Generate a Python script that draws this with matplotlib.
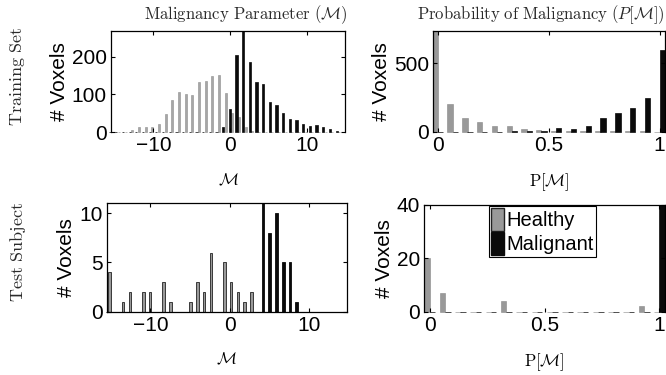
import matplotlib
matplotlib.use("Agg")
import matplotlib.pyplot as plt
import numpy as np
from matplotlib.patches import Patch

plt.rcParams['font.family'] = ['Liberation Sans', 'DejaVu Sans']
plt.rcParams['mathtext.fontset'] = 'cm'

# --- data ---
# Malignancy parameter histograms (bin index 0..34)
train_m_start, train_m_step = -15.34, 0.867
train_m_healthy = [0, 0, 0, 5, 12, 12, 13, 22, 47, 85, 107, 100, 98, 133, 137, 150, 152,
                   104, 50, 39, 12, 3, 0, 0, 0, 0, 0, 0, 0, 0, 0, 0, 0, 0, 0]
train_m_malignant = [0, 0, 0, 0, 0, 0, 0, 0, 0, 0, 0, 0, 0, 0, 0, 0, 0,
                     12, 60, 204, 270, 186, 133, 129, 79, 72, 51, 35, 32, 21, 17, 18, 12, 8, 3]

test_m_start, test_m_step = -15.13, 0.851
test_m_healthy = [4, 0, 1, 2, 0, 2, 2, 0, 3, 1, 0, 0, 1, 3, 2, 6, 0, 5, 3, 2, 1, 2,
                  0, 0, 0, 0, 0, 0, 0, 0, 0, 0, 0, 0, 0]
test_m_malignant = [0] * 23 + [11, 8, 10, 5, 5, 1] + [0] * 6

# Probability of malignancy histograms (16 bins on [0, 1])
p_bins = np.linspace(0, 1, 16)
train_p_healthy = [740, 200, 102, 73, 44, 39, 18, 10, 8, 5, 5, 3, 2, 2, 8, 0]
train_p_malignant = [0, 0, 0, 0, 0, 3, 5, 8, 25, 20, 44, 102, 139, 171, 244, 600]
test_p_healthy = [20, 7, 0, 0, 0, 4, 0, 0, 0, 0, 0, 0, 0, 0, 2, 0]
test_p_malignant = [0] * 15 + [40]

GREY = '#999999'
BLACK = '#0a0a0a'

fig = plt.figure(figsize=(6.66, 3.75), dpi=100)
W, H = 666.0, 375.0


def add_axes(l, r, t, b):
    return fig.add_axes([l / W, 1 - b / H, (r - l) / W, (b - t) / H])


def style(ax, show_bottom=False):
    ax.tick_params(direction='in', top=True, right=True, length=3, width=0.8,
                   labelsize=15, pad=3)
    for s in ax.spines.values():
        s.set_linewidth(0.9)
    ax.spines['bottom'].set_visible(show_bottom)
    ax.set_ylabel('# Voxels', fontsize=15, labelpad=2)


ax1 = add_axes(111, 345, 30.7, 132)
ax2 = add_axes(433, 665, 30.7, 131.7)
ax3 = add_axes(106.7, 347, 203.3, 311.7)
ax4 = add_axes(424.3, 665, 204.5, 311.7)

# top left
x = train_m_start + train_m_step * np.arange(len(train_m_healthy))
ax1.bar(x, train_m_healthy, width=0.26, color='#a6a6a6', edgecolor='#8c8c8c',
        linewidth=0.4, clip_on=False)
ax1.bar(x - 0.33, train_m_malignant, width=0.28, color=BLACK, edgecolor=BLACK,
        linewidth=0.5, clip_on=False)
ax1.set_xlim(-15.5, 14.9)
ax1.set_ylim(0, 270)
ax1.set_xticks([-10, 0, 10])
ax1.set_yticks([0, 100, 200])
style(ax1)
ax1.set_xlabel(r'$\mathcal{M}$', fontsize=12, labelpad=12)

# top right
d = 0.175 / 15
wp = 0.36 / 15
ax2.bar(p_bins - d, train_p_healthy, width=wp, color=GREY, edgecolor='#888888',
        linewidth=0.4, clip_on=False)
ax2.bar(p_bins + d, train_p_malignant, width=wp, color=BLACK, edgecolor=BLACK,
        linewidth=0.5, clip_on=False)
ax2.set_xlim(-0.022, 1.024)
ax2.set_ylim(0, 740)
ax2.set_xticks([0, 0.5, 1])
ax2.set_xticklabels(['0', '0.5', '1'])
ax2.set_yticks([0, 500])
style(ax2)
ax2.set_xlabel(r'$\mathrm{P[}\mathcal{M}\mathrm{]}$', fontsize=12, labelpad=12)

# bottom left
x = test_m_start + test_m_step * np.arange(len(test_m_healthy))
ax3.bar(x, test_m_healthy, width=0.3, color=GREY, edgecolor='#222222',
        linewidth=0.6, clip_on=False)
ax3.bar(x - 0.24, test_m_malignant, width=0.35, color=BLACK, edgecolor=BLACK,
        linewidth=0.6, clip_on=False)
ax3.set_xlim(-15.5, 14.8)
ax3.set_ylim(0, 11)
ax3.set_xticks([-10, 0, 10])
ax3.set_yticks([0, 5, 10])
style(ax3, show_bottom=True)
ax3.set_xlabel(r'$\mathcal{M}$', fontsize=12, labelpad=12)

# bottom right
ax4.bar(p_bins - d, test_p_healthy, width=wp, color=GREY, edgecolor='#888888',
        linewidth=0.4, clip_on=False)
ax4.bar(p_bins + d, test_p_malignant, width=wp, color=BLACK, edgecolor=BLACK,
        linewidth=0.5, clip_on=False)
ax4.set_xlim(-0.024, 1.024)
ax4.set_ylim(0, 40)
ax4.set_xticks([0, 0.5, 1])
ax4.set_xticklabels(['0', '0.5', '1'])
ax4.set_yticks([0, 20, 40])
style(ax4)
ax4.set_xlabel(r'$\mathrm{P[}\mathcal{M}\mathrm{]}$', fontsize=12, labelpad=12)

handles = [Patch(facecolor=GREY, edgecolor='#222222', label='Healthy'),
           Patch(facecolor=BLACK, edgecolor=BLACK, label='Malignant')]
leg = ax4.legend(handles=handles, loc='upper left', bbox_to_anchor=(0.27, 0.99),
                 borderaxespad=0, fontsize=14.5, handlelength=0.65, handleheight=1.4,
                 handletextpad=0.1, borderpad=0.1, labelspacing=0.05,
                 fancybox=False, framealpha=1)
leg.get_frame().set_edgecolor('black')
leg.get_frame().set_linewidth(0.8)

# titles and row labels
fig.text(246 / W, 1 - 15 / H, r'$\mathrm{Malignancy\ Parameter\ (}\mathcal{M}\mathrm{)}$',
         ha='center', va='center', fontsize=12, color='#2a2a2a')
fig.text(541 / W, 1 - 15 / H, r'$\mathrm{Probability\ of\ Malignancy\ (}P[\mathcal{M}]\mathrm{)}$',
         ha='center', va='center', fontsize=12, color='#2a2a2a')
fig.text(18 / W, 1 - 76 / H, r'$\mathrm{Training\ Set}$', rotation=90,
         ha='center', va='center', fontsize=13, color='#2a2a2a')
fig.text(18 / W, 1 - 252 / H, r'$\mathrm{Test\ Subject}$', rotation=90,
         ha='center', va='center', fontsize=13, color='#2a2a2a')

plt.savefig('out.png', dpi=100)
plt.close()
